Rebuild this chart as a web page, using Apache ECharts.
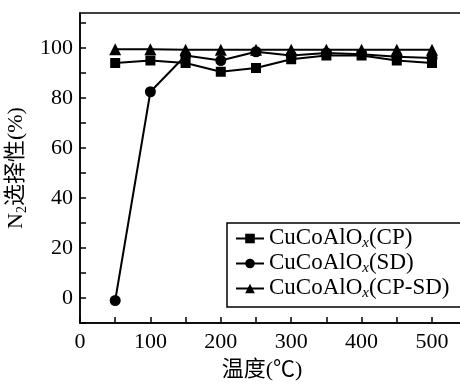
<!DOCTYPE html>
<html>
<head>
<meta charset="utf-8">
<script src="https://cdn.jsdelivr.net/npm/echarts@6/dist/echarts.min.js"></script>
<style>html,body{margin:0;padding:0;background:#fff;}#c{width:460px;height:385px;}</style>
</head>
<body>
<div id="c"></div>
<script>
const temps = [50, 100, 150, 200, 250, 300, 350, 400, 450, 500];
const cpValues = [94, 95, 94, 90.5, 92, 95.5, 97, 97, 95, 94];
const sdValues = [-1, 82.5, 97, 95, 98.5, 97, 98, 97.5, 96.5, 96];
const cpsdValues = [99.5, 99.5, 99.3, 99.3, 99.3, 99.3, 99.3, 99.3, 99.3, 99.3];
const seriesNames = ['CP', 'SD', 'CP-SD'];
const xTickLabels = [0, 100, 200, 300, 400, 500];
const yTickLabels = [0, 20, 40, 60, 80, 100];

const serif = "'Liberation Serif', 'Times New Roman', 'Noto Sans CJK SC', serif";
function pairs(ys){ return temps.map((t,i)=>[t, ys[i]]); }
const chart = echarts.init(document.getElementById('c'), null, {renderer:'canvas'});
const common = {type:'line', color:'#000', lineStyle:{color:'#000', width:2}, itemStyle:{color:'#000'}};
chart.setOption({
  animation:false,
  backgroundColor:'#fff',
  grid:{left:80, right:-10, top:13, bottom:62, show:true, borderColor:'#000', borderWidth:1.5, outerBoundsMode:'none'},
  legend:{
    orient:'vertical', left:227, top:223,
    padding:[3, 30, 6, 8], itemGap:0, itemWidth:28, itemHeight:12,
    backgroundColor:'#fff', borderColor:'#000', borderWidth:1.5, borderRadius:0,
    formatter: n => '{a|CuCoAlO}{s|x}{a|(' + n + ')}',
    textStyle:{color:'#000', fontFamily:serif, fontSize:23,
      rich:{a:{fontFamily:serif, fontSize:23, lineHeight:25, verticalAlign:'top', color:'#000'},
            s:{fontFamily:serif, fontSize:15, fontStyle:'italic', lineHeight:15, verticalAlign:'bottom', color:'#000'}}},
    data: seriesNames
  },
  xAxis:{
    type:'value', min:0, max:554, interval:50,
    name:'温度(℃)', nameLocation:'middle', nameGap:36,
    nameTextStyle:{color:'#000', fontFamily:serif, fontSize:22, padding:[0,26,0,0]},
    axisLine:{show:true, onZero:false, lineStyle:{color:'#000', width:1.5}},
    axisTick:{show:true, inside:true, length:6, lineStyle:{color:'#000', width:1.5}},
    axisLabel:{color:'#000', fontFamily:serif, fontSize:22, margin:8, showMaxLabel:false,
      formatter: v => xTickLabels.includes(v) ? String(v) : ''},
    splitLine:{show:false}
  },
  yAxis:{
    type:'value', min:-10, max:114, interval:10,
    name:'{a|N}{s|2}{a|选择性(%)}', nameLocation:'middle', nameGap:47, nameRotate:90,
    nameTextStyle:{color:'#000', fontFamily:serif, fontSize:22,
      rich:{a:{fontFamily:serif, fontSize:22, lineHeight:24, verticalAlign:'top', color:'#000'},
            s:{fontFamily:serif, fontSize:14, lineHeight:14, verticalAlign:'bottom', color:'#000'}}},
    axisLine:{show:true, onZero:false, lineStyle:{color:'#000', width:1.5}},
    axisTick:{show:true, inside:true, length:6, lineStyle:{color:'#000', width:1.5}},
    axisLabel:{color:'#000', fontFamily:serif, fontSize:22, margin:7, showMaxLabel:false,
      formatter: v => yTickLabels.includes(v) ? String(v) : ''},
    splitLine:{show:false}
  },
  series:[
    Object.assign({}, common, {name:seriesNames[0], data:pairs(cpValues), symbol:'rect', symbolSize:10}),
    Object.assign({}, common, {name:seriesNames[1], data:pairs(sdValues), symbol:'circle', symbolSize:11}),
    Object.assign({}, common, {name:seriesNames[2], data:pairs(cpsdValues), symbol:'triangle', symbolSize:12})
  ]
});
</script>
</body>
</html>
